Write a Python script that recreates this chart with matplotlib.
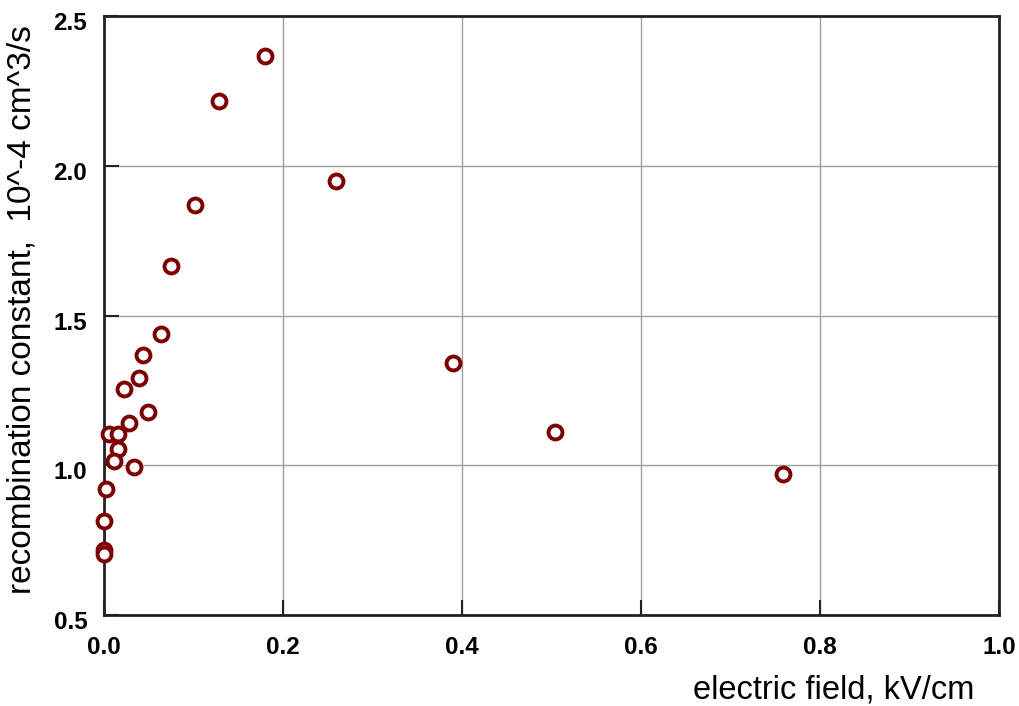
import numpy as np
import matplotlib
matplotlib.use('Agg')
import matplotlib.pyplot as plt
from matplotlib.transforms import ScaledTranslation

# electric field (kV/cm) and recombination constant (10^-4 cm^3/s)
field = [0.180, 0.1285, 0.259, 0.1017, 0.0749, 0.0637, 0.0436, 0.039, 0.0223,
         0.049, 0.028, 0.0056, 0.0156, 0.0156, 0.011, 0.0335, 0.002, 0.0005,
         0.0003, 0.0002, 0.390, 0.504, 0.759]
rate = [2.367, 2.216, 1.949, 1.869, 1.666, 1.439, 1.369, 1.291, 1.255,
        1.178, 1.142, 1.105, 1.105, 1.055, 1.013, 0.993, 0.922, 0.815,
        0.718, 0.705, 1.342, 1.112, 0.972]

xticks = [0.0, 0.2, 0.4, 0.6, 0.8, 1.0]
yticks = [0.5, 1.0, 1.5, 2.0, 2.5]

plt.rcParams['font.family'] = ['Liberation Sans', 'DejaVu Sans']

fig = plt.figure(figsize=(10.19, 7.06), dpi=100)
ax = fig.add_axes([104/1019, 1-615/706, 895/1019, 599/706])

ax.plot(field, rate, 'o', ms=10, mfc='white', mec='#800000', mew=2.8, clip_on=False, zorder=3)

ax.set_xlim(0, 1.0)
ax.set_ylim(0.5, 2.5)
ax.set_xticks(xticks)
ax.set_yticks(yticks)
ax.set_xticklabels(['%.1f' % v for v in xticks], fontsize=17.5, fontweight='bold')
ax.set_yticklabels(['%.1f' % v for v in yticks], fontsize=17.5, fontweight='bold')
ax.tick_params(direction='in', length=11, width=1.5, color='#222222')
ax.tick_params(axis='x', pad=15)
ax.tick_params(axis='y', pad=12)
for lab in ax.get_yticklabels():
    lab.set_transform(lab.get_transform() + ScaledTranslation(0, -0.05, fig.dpi_scale_trans))
ax.grid(True, color='#a0a0a0', lw=1)
for s in ax.spines.values():
    s.set_linewidth(2)
    s.set_color('#222222')

ax.set_xlabel('electric field, kV/cm', fontsize=23.5, ha='right')
ax.xaxis.set_label_coords(0.973, -0.1)
ax.set_ylabel('recombination constant,  10^-4 cm^3/s', fontsize=24)
ax.yaxis.set_label_coords(-0.074, 0.51)

fig.savefig('out.png', dpi=100)
